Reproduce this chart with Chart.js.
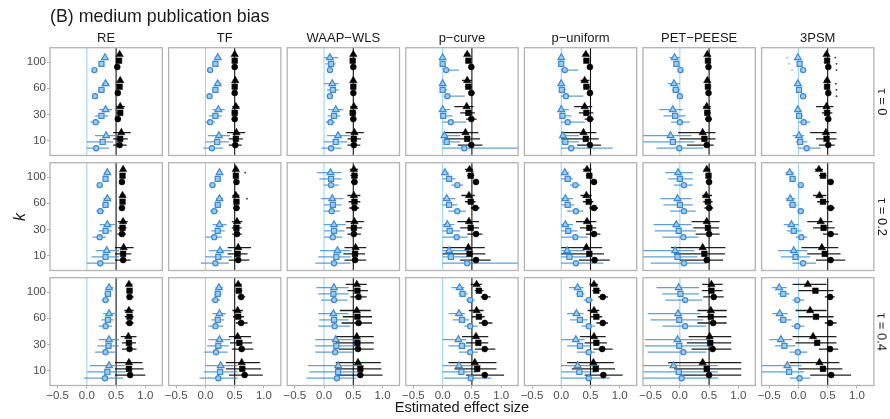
<!DOCTYPE html>
<html>
<head>
<meta charset="utf-8">
<script src="https://cdn.jsdelivr.net/npm/chart.js@4.4.1/dist/chart.umd.min.js"></script>
<style>
  html, body { margin: 0; padding: 0; background: #fff; }
  #wrap { position: relative; width: 890px; height: 419px; overflow: hidden; font-family: 'Liberation Sans', Arial, sans-serif; }
  #wrap canvas { position: absolute; left: 0; top: 0; }
  .lbl { position: absolute; white-space: nowrap; line-height: 1; color: #1a1a1a; }
</style>
</head>
<body>
<div id="wrap"></div>
<script>
// facets and axis labels
const methods = ['RE', 'TF', 'WAAP\u2212WLS', 'p\u2212curve', 'p\u2212uniform', 'PET\u2212PEESE', '3PSM'];
const tauLabels = ['\u03c4 = 0', '\u03c4 = 0.2', '\u03c4 = 0.4'];
const kLabels = ['10', '30', '60', '100'];
const xTicks = [-0.5, 0, 0.5, 1];

// each series: [tau][shape: triangle, square, circle][k: 10, 30, 60, 100] = [estimate, lower, upper]
// black = true effect 0.5, blue = true effect 0
const RE_black = [
  [[[0.59,0.45,0.75],[0.57,0.50,0.65],[0.57,0.54,0.60],[0.56,0.54,0.58]],
   [[0.57,0.45,0.70],[0.57,0.51,0.62],[0.56,0.53,0.59],[0.55,0.53,0.57]],
   [[0.56,0.45,0.68],[0.53,0.48,0.58],[0.53,0.50,0.56],[0.52,0.50,0.54]]],
  [[[0.63,0.48,0.80],[0.62,0.53,0.70],[0.61,0.57,0.66],[0.62,0.59,0.65]],
   [[0.62,0.48,0.76],[0.61,0.53,0.68],[0.61,0.57,0.65],[0.61,0.58,0.64]],
   [[0.62,0.48,0.75],[0.60,0.52,0.67],[0.60,0.56,0.64],[0.60,0.57,0.63]]],
  [[[0.72,0.48,0.95],[0.71,0.58,0.85],[0.72,0.64,0.80],[0.72,0.67,0.78]],
   [[0.72,0.48,0.97],[0.72,0.60,0.84],[0.73,0.65,0.80],[0.73,0.68,0.78]],
   [[0.74,0.48,1.00],[0.73,0.60,0.85],[0.73,0.66,0.80],[0.73,0.68,0.80]]]
];
const RE_blue = [
  [[[0.33,0.14,0.55],[0.32,0.21,0.43],[0.32,0.26,0.38],[0.31,0.27,0.35]],
   [[0.27,0.00,0.45],[0.25,0.14,0.37],[0.25,0.19,0.31],[0.25,0.21,0.29]],
   [[0.16,0.00,0.38],[0.15,0.06,0.23],[0.14,0.09,0.19],[0.13,0.09,0.17]]],
  [[[0.34,0.15,0.55],[0.35,0.22,0.48],[0.35,0.28,0.42],[0.35,0.30,0.40]],
   [[0.32,0.08,0.55],[0.32,0.20,0.43],[0.32,0.26,0.38],[0.32,0.28,0.36]],
   [[0.23,0.00,0.48],[0.22,0.10,0.33],[0.23,0.16,0.30],[0.22,0.17,0.27]]],
  [[[0.38,0.05,0.65],[0.38,0.20,0.55],[0.38,0.28,0.48],[0.38,0.32,0.45]],
   [[0.35,0.01,0.66],[0.37,0.18,0.55],[0.36,0.25,0.46],[0.36,0.30,0.42]],
   [[0.31,-0.05,0.62],[0.32,0.14,0.48],[0.32,0.20,0.43],[0.32,0.25,0.38]]]
];
const TF_black = [
  [[[0.53,0.37,0.68],[0.52,0.46,0.58],[0.51,0.48,0.54],[0.50,0.48,0.52]],
   [[0.52,0.40,0.64],[0.50,0.45,0.56],[0.50,0.48,0.53],[0.50,0.48,0.52]],
   [[0.51,0.40,0.62],[0.50,0.45,0.55],[0.50,0.47,0.53],[0.50,0.48,0.52]]],
  [[[0.56,0.38,0.78],[0.54,0.45,0.63],[0.52,0.46,0.58],[0.52,0.48,0.56]],
   [[0.55,0.38,0.72],[0.53,0.45,0.62],[0.53,0.48,0.58],[0.52,0.49,0.55]],
   [[0.56,0.40,0.75],[0.54,0.46,0.62],[0.53,0.48,0.58],[0.53,0.50,0.56]]],
  [[[0.62,0.35,0.93],[0.55,0.40,0.78],[0.55,0.46,0.64],[0.56,0.50,0.62]],
   [[0.63,0.35,0.95],[0.58,0.42,0.80],[0.56,0.47,0.66],[0.57,0.52,0.63]],
   [[0.67,0.40,0.98],[0.62,0.45,0.82],[0.61,0.52,0.72],[0.61,0.55,0.68]]]
];
const TF_blue = [
  [[[0.23,0.04,0.42],[0.22,0.12,0.33],[0.21,0.16,0.27],[0.21,0.17,0.26]],
   [[0.20,0.00,0.40],[0.17,0.06,0.28],[0.17,0.12,0.22],[0.17,0.13,0.21]],
   [[0.11,-0.04,0.30],[0.08,0.00,0.16],[0.07,0.03,0.12],[0.08,0.04,0.12]]],
  [[[0.25,0.06,0.45],[0.24,0.12,0.36],[0.24,0.18,0.30],[0.24,0.20,0.28]],
   [[0.22,0.00,0.45],[0.21,0.10,0.33],[0.21,0.15,0.27],[0.21,0.17,0.25]],
   [[0.17,-0.08,0.40],[0.15,0.00,0.28],[0.15,0.08,0.22],[0.12,0.07,0.17]]],
  [[[0.26,0.00,0.55],[0.24,0.05,0.43],[0.24,0.12,0.35],[0.23,0.17,0.30]],
   [[0.25,-0.03,0.55],[0.22,0.03,0.40],[0.21,0.10,0.32],[0.21,0.15,0.28]],
   [[0.22,-0.10,0.55],[0.18,-0.02,0.38],[0.17,0.05,0.30],[0.17,0.10,0.25]]]
];
const WAAP_black = [
  [[[0.52,0.37,0.68],[0.51,0.45,0.57],[0.50,0.47,0.53],[0.50,0.48,0.52]],
   [[0.51,0.40,0.63],[0.49,0.44,0.55],[0.50,0.47,0.53],[0.49,0.47,0.51]],
   [[0.51,0.40,0.62],[0.50,0.45,0.55],[0.50,0.47,0.53],[0.50,0.48,0.52]]],
  [[[0.54,0.35,0.72],[0.52,0.37,0.68],[0.51,0.40,0.62],[0.51,0.44,0.58]],
   [[0.53,0.33,0.70],[0.51,0.38,0.65],[0.52,0.42,0.62],[0.52,0.45,0.58]],
   [[0.53,0.35,0.72],[0.51,0.40,0.63],[0.52,0.43,0.60],[0.52,0.46,0.57]]],
  [[[0.58,0.20,0.97],[0.56,0.20,0.85],[0.56,0.27,0.80],[0.56,0.37,0.73]],
   [[0.62,0.20,0.98],[0.57,0.20,0.85],[0.57,0.32,0.82],[0.57,0.40,0.75]],
   [[0.62,0.20,1.00],[0.58,0.25,0.85],[0.59,0.30,0.82],[0.59,0.45,0.73]]]
];
const WAAP_blue = [
  [[[0.24,0.05,0.45],[0.20,0.07,0.33],[0.14,0.00,0.25],[0.10,0.00,0.24]],
   [[0.20,0.00,0.40],[0.17,0.06,0.28],[0.15,0.05,0.25],[0.12,0.02,0.20]],
   [[0.12,-0.04,0.30],[0.11,0.03,0.19],[0.10,0.05,0.15],[0.10,0.07,0.13]]],
  [[[0.23,-0.07,0.45],[0.17,0.00,0.37],[0.14,-0.05,0.33],[0.11,-0.12,0.30]],
   [[0.21,-0.10,0.45],[0.17,0.00,0.35],[0.15,0.00,0.30],[0.12,-0.08,0.30]],
   [[0.17,-0.15,0.45],[0.15,0.00,0.31],[0.13,0.00,0.27],[0.12,0.00,0.25]]],
  [[[0.24,-0.27,0.68],[0.20,-0.15,0.60],[0.16,-0.10,0.42],[0.17,-0.13,0.42]],
   [[0.24,-0.25,0.60],[0.21,-0.15,0.60],[0.17,-0.08,0.42],[0.16,-0.10,0.42]],
   [[0.22,-0.30,0.55],[0.19,-0.15,0.50],[0.18,-0.10,0.45],[0.17,-0.05,0.40]]]
];
const PCURVE_black = [
  [[[0.39,0.03,0.61],[0.41,0.20,0.53],[0.42,0.33,0.50],[0.42,0.37,0.47]],
   [[0.42,0.03,0.64],[0.44,0.30,0.55],[0.44,0.38,0.50],[0.44,0.40,0.48]],
   [[0.49,0.26,0.68],[0.49,0.40,0.58],[0.49,0.45,0.55],[0.49,0.47,0.52]]],
  [[[0.44,0.00,0.72],[0.45,0.25,0.62],[0.45,0.32,0.55],[0.46,0.38,0.52]],
   [[0.46,0.00,0.73],[0.48,0.30,0.62],[0.48,0.38,0.56],[0.48,0.42,0.54]],
   [[0.57,0.30,0.82],[0.57,0.42,0.68],[0.56,0.48,0.63],[0.57,0.52,0.62]]],
  [[[0.55,0.10,0.92],[0.57,0.33,0.78],[0.58,0.45,0.70],[0.58,0.48,0.67]],
   [[0.59,0.20,0.92],[0.61,0.40,0.78],[0.62,0.50,0.72],[0.62,0.55,0.70]],
   [[0.72,0.40,1.05],[0.72,0.55,0.90],[0.72,0.62,0.85],[0.72,0.65,0.82]]]
];
const PCURVE_blue = [
  [[[0.03,0.00,0.30],[0.00,0.00,0.13],[0.00,0.00,0.03],[0.00,0.00,0.02]],
   [[0.07,0.00,0.30],[0.01,0.00,0.17],[0.00,0.00,0.08],[0.00,0.00,0.03]],
   [[0.37,0.00,1.40],[0.14,0.00,0.40],[0.08,0.02,0.38],[0.06,0.03,0.28]]],
  [[[0.11,0.00,0.45],[0.08,0.00,0.20],[0.07,0.00,0.22],[0.04,0.00,0.10]],
   [[0.14,0.00,0.42],[0.12,0.00,0.30],[0.11,0.00,0.25],[0.11,0.00,0.22]],
   [[0.42,0.00,1.40],[0.24,0.00,0.43],[0.25,0.10,0.40],[0.25,0.15,0.35]]],
  [[[0.28,0.00,0.65],[0.27,0.00,0.40],[0.28,0.10,0.38],[0.29,0.15,0.37]],
   [[0.32,0.00,0.60],[0.33,0.10,0.52],[0.33,0.17,0.45],[0.34,0.27,0.43]],
   [[0.48,0.02,0.83],[0.47,0.28,0.60],[0.47,0.37,0.60],[0.47,0.40,0.55]]]
];
const PUNIFORM_black = [
  [[[0.38,0.00,0.60],[0.40,0.22,0.53],[0.40,0.33,0.48],[0.42,0.37,0.47]],
   [[0.42,0.00,0.64],[0.43,0.30,0.55],[0.43,0.38,0.50],[0.43,0.40,0.47]],
   [[0.49,0.27,0.68],[0.49,0.40,0.56],[0.49,0.45,0.54],[0.49,0.47,0.52]]],
  [[[0.43,0.00,0.70],[0.44,0.25,0.60],[0.43,0.33,0.52],[0.44,0.37,0.52]],
   [[0.48,0.00,0.73],[0.48,0.32,0.60],[0.47,0.37,0.55],[0.48,0.42,0.53]],
   [[0.57,0.30,0.83],[0.56,0.42,0.67],[0.56,0.48,0.63],[0.56,0.52,0.61]]],
  [[[0.55,0.10,0.90],[0.56,0.32,0.76],[0.56,0.45,0.65],[0.56,0.48,0.63]],
   [[0.59,0.18,0.92],[0.60,0.40,0.78],[0.60,0.50,0.70],[0.60,0.53,0.68]],
   [[0.72,0.40,1.05],[0.70,0.55,0.88],[0.71,0.60,0.80],[0.71,0.63,0.80]]]
];
const PUNIFORM_blue = [
  [[[0.03,0.00,0.30],[0.00,0.00,0.13],[0.00,0.00,0.03],[0.00,0.00,0.02]],
   [[0.07,0.00,0.30],[0.02,0.00,0.17],[0.01,0.00,0.08],[0.00,0.00,0.03]],
   [[0.17,0.00,0.88],[0.11,0.00,0.40],[0.08,0.00,0.38],[0.06,0.00,0.29]]],
  [[[0.10,0.00,0.40],[0.07,0.00,0.20],[0.07,0.00,0.20],[0.06,0.00,0.13]],
   [[0.14,0.00,0.45],[0.12,0.00,0.28],[0.11,0.00,0.22],[0.11,0.00,0.20]],
   [[0.25,0.00,0.72],[0.24,0.00,0.45],[0.25,0.10,0.38],[0.24,0.15,0.33]]],
  [[[0.28,0.00,0.65],[0.25,0.00,0.40],[0.26,0.10,0.38],[0.28,0.13,0.38]],
   [[0.31,0.00,0.60],[0.32,0.10,0.50],[0.32,0.15,0.45],[0.32,0.25,0.40]],
   [[0.47,0.00,0.83],[0.47,0.27,0.58],[0.47,0.35,0.58],[0.47,0.38,0.55]]]
];
const PET_black = [
  [[[0.39,-0.03,0.61],[0.46,0.40,0.53],[0.47,0.44,0.51],[0.47,0.45,0.50]],
   [[0.42,0.00,0.61],[0.47,0.42,0.53],[0.48,0.45,0.51],[0.48,0.46,0.50]],
   [[0.46,0.12,0.58],[0.49,0.43,0.55],[0.49,0.46,0.52],[0.49,0.47,0.51]]],
  [[[0.39,-0.15,0.78],[0.46,0.20,0.68],[0.45,0.38,0.55],[0.46,0.42,0.52]],
   [[0.42,-0.10,0.77],[0.48,0.23,0.67],[0.48,0.40,0.56],[0.49,0.45,0.53]],
   [[0.46,0.00,0.74],[0.50,0.27,0.68],[0.50,0.42,0.57],[0.50,0.45,0.55]]],
  [[[0.39,-0.20,1.05],[0.51,0.15,0.88],[0.53,0.30,0.80],[0.54,0.38,0.73]],
   [[0.46,-0.10,1.05],[0.52,0.12,0.88],[0.53,0.30,0.80],[0.54,0.38,0.73]],
   [[0.50,0.00,1.05],[0.56,0.20,0.88],[0.57,0.30,0.80],[0.58,0.40,0.75]]]
];
const PET_blue = [
  [[[-0.16,-0.70,0.20],[-0.12,-0.35,0.05],[-0.10,-0.20,0.00],[-0.09,-0.18,0.00]],
   [[-0.12,-0.70,0.25],[-0.08,-0.28,0.10],[-0.07,-0.14,0.00],[-0.06,-0.10,-0.02]],
   [[-0.01,-0.40,0.40],[0.00,-0.15,0.17],[0.00,-0.04,0.05],[0.01,-0.03,0.06]]],
  [[[-0.08,-0.70,0.25],[-0.06,-0.45,0.20],[-0.04,-0.33,0.20],[-0.03,-0.25,0.22]],
   [[-0.04,-0.70,0.30],[-0.02,-0.43,0.28],[0.00,-0.28,0.22],[0.00,-0.20,0.22]],
   [[0.07,-0.50,0.45],[0.06,-0.30,0.32],[0.07,-0.17,0.27],[0.07,-0.10,0.22]]],
  [[[-0.11,-0.70,0.65],[-0.04,-0.60,0.50],[-0.03,-0.55,0.35],[-0.02,-0.40,0.33]],
   [[-0.02,-0.70,0.65],[-0.01,-0.60,0.50],[-0.01,-0.50,0.40],[0.01,-0.30,0.33]],
   [[0.03,-0.70,0.65],[0.06,-0.55,0.45],[0.09,-0.30,0.45],[0.09,-0.25,0.38]]]
];
const PSM3_black = [
  [[[0.47,0.20,0.65],[0.48,0.30,0.60],[0.49,0.44,0.53],[0.48,0.45,0.51]],
   [[0.48,0.30,0.65],[0.49,0.40,0.58],[0.49,0.46,0.52],[0.49,0.46,0.52]],
   [[0.51,0.35,0.62],[0.51,0.45,0.55],[0.51,0.49,0.53],[0.51,0.49,0.53]]],
  [[[0.40,0.05,0.68],[0.38,0.15,0.58],[0.36,0.25,0.48],[0.35,0.28,0.42]],
   [[0.45,0.15,0.72],[0.43,0.25,0.62],[0.42,0.32,0.52],[0.42,0.35,0.48]],
   [[0.55,0.30,0.80],[0.55,0.42,0.68],[0.55,0.48,0.62],[0.55,0.50,0.60]]],
  [[[0.36,-0.15,0.70],[0.25,-0.10,0.65],[0.20,-0.05,0.48],[0.16,-0.10,0.48]],
   [[0.42,0.00,0.75],[0.32,-0.05,0.65],[0.30,0.00,0.60],[0.29,0.00,0.60]],
   [[0.56,0.20,0.90],[0.54,0.35,0.68],[0.54,0.45,0.65],[0.54,0.45,0.62]]]
];
const PSM3_blue = [
  [[[0.01,-0.10,0.10],[-0.01,-0.05,0.03],[-0.01,-0.03,0.01],[-0.01,-0.03,0.01]],
   [[0.03,-0.05,0.15],[0.01,-0.02,0.08],[0.01,-0.01,0.04],[0.02,0.00,0.05]],
   [[0.14,0.00,0.38],[0.09,0.00,0.20],[0.08,0.03,0.14],[0.08,0.03,0.13]]],
  [[[-0.08,-0.35,0.15],[-0.12,-0.25,0.00],[-0.14,-0.22,-0.05],[-0.15,-0.22,-0.08]],
   [[-0.05,-0.30,0.20],[-0.08,-0.20,0.05],[-0.10,-0.17,-0.02],[-0.10,-0.16,-0.04]],
   [[0.08,-0.10,0.30],[0.05,-0.05,0.15],[0.04,-0.02,0.10],[0.04,-0.01,0.09]]],
  [[[-0.19,-0.70,0.05],[-0.30,-0.50,-0.10],[-0.32,-0.45,-0.18],[-0.33,-0.45,-0.20]],
   [[-0.16,-0.70,0.10],[-0.24,-0.40,-0.05],[-0.26,-0.35,-0.12],[-0.26,-0.35,-0.15]],
   [[0.02,-0.15,0.20],[-0.01,-0.15,0.15],[-0.02,-0.12,0.10],[-0.02,-0.10,0.10]]]
];

// tiny marks: [method, tau, x, k index, slot, colour]
const noteMarks = [
  [6, 0, -0.19, 3, 1, 'blue'], [6, 0, -0.16, 3, 3, 'blue'], [6, 0, -0.11, 3, 5, 'blue'],
  [6, 0, 0.63, 3, 1, 'black'], [6, 0, 0.65, 3, 3, 'black'], [6, 0, 0.65, 3, 5, 'black'],
  [6, 0, 0.64, 2, 1, 'black'], [6, 0, 0.65, 2, 3, 'black'], [6, 0, 0.65, 2, 5, 'black'],
  [1, 1, 0.68, 3, 1, 'black'], [1, 1, 0.71, 2, 1, 'black']
];

const blackSeries = [RE_black, TF_black, WAAP_black, PCURVE_black, PUNIFORM_black, PET_black, PSM3_black];
const blueSeries = [RE_blue, TF_blue, WAAP_blue, PCURVE_blue, PUNIFORM_blue, PET_blue, PSM3_blue];

// dodge slots within each k: black tri, blue tri, black sq, blue sq, black circ, blue circ
const slots = [0.3, 0.18, 0.06, -0.06, -0.18, -0.3];
const shapes = ['triangle', 'rect', 'circle'];

// panel geometry (px)
const PANEL_LEFT = 50, PANEL_PITCH = 118.6, PANEL_W = 112.3;
const PANEL_TOP = 47.7, ROW_PITCH = 115, PANEL_H = 107.8;
const Y_AXIS_W = 30, X_AXIS_H = 20;

const BLUE_LINE = 'rgba(52, 132, 204, 0.78)';
const BLACK_LINE = 'rgba(0, 0, 0, 0.88)';
const FONT = "'Liberation Sans', Arial, sans-serif";

const fmtX = v => (v < 0 ? '\u2212' : '') + Math.abs(v).toFixed(1);

const panelDeco = {
  id: 'panelDeco',
  beforeDatasetsDraw(chart) {
    const { ctx, chartArea: a, scales: { x, y } } = chart;
    ctx.save();
    ctx.beginPath();
    ctx.rect(a.left, a.top, a.width, a.height);
    ctx.clip();
    // reference lines at 0 and 0.5
    [[0, '#9fd3ef'], [0.5, '#111']].forEach(([v, col]) => {
      const px = x.getPixelForValue(v);
      ctx.strokeStyle = col;
      ctx.lineWidth = 1.1;
      ctx.beginPath();
      ctx.moveTo(px, a.top);
      ctx.lineTo(px, a.bottom);
      ctx.stroke();
    });
    // interval bars
    chart.data.datasets.forEach(ds => {
      if (!ds.intervalColor) return;
      ctx.strokeStyle = ds.intervalColor;
      ctx.lineWidth = 1.3;
      ds.data.forEach(p => {
        const py = y.getPixelForValue(p.y);
        ctx.beginPath();
        ctx.moveTo(x.getPixelForValue(p.lo), py);
        ctx.lineTo(x.getPixelForValue(p.hi), py);
        ctx.stroke();
      });
    });
    ctx.restore();
  },
  afterDraw(chart) {
    const { ctx, chartArea: a } = chart;
    ctx.save();
    ctx.strokeStyle = '#b3b3b3';
    ctx.lineWidth = 1.3;
    ctx.strokeRect(a.left, a.top, a.width, a.height);
    ctx.restore();
  }
};

function toPoints(rows, slot) {
  return rows.map((d, k) => ({ x: d[0], y: k + slot, lo: d[1], hi: d[2] }));
}

function buildDatasets(m, t) {
  const sets = [];
  shapes.forEach((shape, s) => {
    const big = shape === 'triangle' ? 4.3 : shape === 'rect' ? 4 : 3;
    sets.push({
      data: toPoints(blackSeries[m][t][s], slots[s * 2]),
      pointStyle: shape,
      pointRadius: big,
      backgroundColor: '#000',
      borderColor: '#000',
      borderWidth: 0.5,
      intervalColor: BLACK_LINE
    });
    sets.push({
      data: toPoints(blueSeries[m][t][s], slots[s * 2 + 1]),
      pointStyle: shape,
      pointRadius: big - 0.4,
      backgroundColor: '#9ccbef',
      borderColor: '#3d8ad0',
      borderWidth: 1.2,
      intervalColor: BLUE_LINE
    });
  });
  const notes = noteMarks.filter(n => n[0] === m && n[1] === t);
  if (notes.length) {
    sets.push({
      data: notes.map(n => ({ x: n[2], y: n[3] + slots[n[4]] })),
      pointStyle: 'circle',
      pointRadius: 0.9,
      borderWidth: 0,
      backgroundColor: notes.map(n => (n[5] === 'blue' ? '#7fb8e6' : '#333'))
    });
  }
  return sets;
}

const wrap = document.getElementById('wrap');

function addLabel(text, x, y, size, opts = {}) {
  const d = document.createElement('div');
  d.className = 'lbl';
  d.textContent = text;
  d.style.left = x + 'px';
  d.style.top = y + 'px';
  d.style.fontSize = size + 'px';
  if (opts.italic) d.style.fontStyle = 'italic';
  d.style.transform = (opts.anchorLeft ? 'translate(0,-50%)' : 'translate(-50%,-50%)') + (opts.rotate ? ' rotate(' + opts.rotate + 'deg)' : '');
  wrap.appendChild(d);
}

for (let r = 0; r < tauLabels.length; r++) {
  for (let c = 0; c < methods.length; c++) {
    const L = PANEL_LEFT + PANEL_PITCH * c;
    const T = PANEL_TOP + ROW_PITCH * r;
    const showY = c === 0;
    const showX = r === tauLabels.length - 1;

    const cv = document.createElement('canvas');
    cv.width = 890;
    cv.height = 419;
    cv.style.width = '890px';
    cv.style.height = '419px';
    wrap.appendChild(cv);

    new Chart(cv, {
      type: 'scatter',
      data: { datasets: buildDatasets(c, r) },
      options: {
        responsive: false,
        devicePixelRatio: 1,
        animation: false,
        events: [],
        layout: {
          padding: {
            left: showY ? L - Y_AXIS_W : L,
            top: T,
            right: 890 - L - PANEL_W,
            bottom: 419 - T - PANEL_H - (showX ? X_AXIS_H : 0)
          }
        },
        plugins: { legend: { display: false }, tooltip: { enabled: false } },
        scales: {
          x: {
            type: 'linear',
            min: -0.63,
            max: 1.29,
            display: showX,
            afterBuildTicks: s => { s.ticks = xTicks.map(v => ({ value: v })); },
            afterFit: s => { s.height = showX ? X_AXIS_H : 0; },
            grid: { drawOnChartArea: false, tickLength: 3, color: '#b3b3b3' },
            border: { display: false },
            ticks: {
              autoSkip: false,
              maxRotation: 0,
              padding: 0,
              color: '#4d4d4d',
              font: { family: FONT, size: 11.5 },
              callback: v => fmtX(v)
            }
          },
          y: {
            type: 'linear',
            min: -0.58,
            max: 3.56,
            display: showY,
            afterBuildTicks: s => { s.ticks = kLabels.map((_, i) => ({ value: i })); },
            afterFit: s => { s.width = showY ? Y_AXIS_W : 0; },
            grid: { drawOnChartArea: false, tickLength: 3, color: '#b3b3b3' },
            border: { display: false },
            ticks: {
              autoSkip: false,
              padding: 1,
              color: '#4d4d4d',
              font: { family: FONT, size: 11.5 },
              callback: v => kLabels[v]
            }
          }
        }
      },
      plugins: [panelDeco]
    });

    if (r === 0) addLabel(methods[c], L + PANEL_W / 2, 37, 13);
    if (c === methods.length - 1) addLabel(tauLabels[r], 882, T + PANEL_H / 2, 13, { rotate: 90 });
  }
}

addLabel('(B) medium publication bias', 50, 16.5, 17.8, { anchorLeft: true });
addLabel('k', 20, 216.5, 16, { italic: true, rotate: -90 });
addLabel('Estimated effect size', PANEL_LEFT + (PANEL_PITCH * 6 + PANEL_W) / 2, 407, 14.6);
</script>
</body>
</html>
